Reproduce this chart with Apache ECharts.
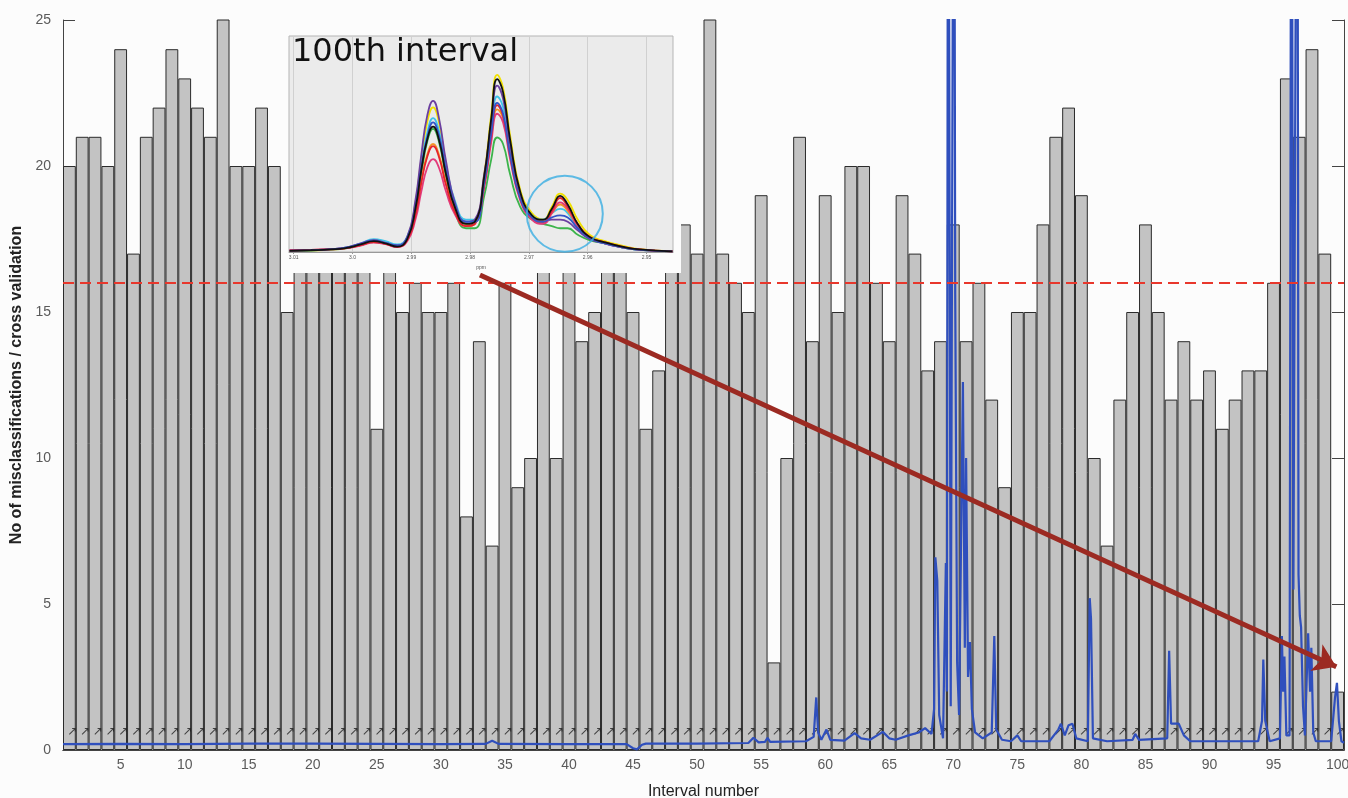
<!DOCTYPE html>
<html><head><meta charset="utf-8">
<script src="https://cdn.jsdelivr.net/npm/echarts@6/dist/echarts.min.js"></script>
<style>html,body{margin:0;padding:0;background:#fcfcfc;overflow:hidden}#c{width:1348px;height:798px}</style>
</head><body><div id="c"></div>
<script>
// ---- main chart data ----
const intervals = Array.from({length: 100}, (_, i) => String(i + 1));
const misclassifications = [
  20,21,21,20,24,17,21,22,24,23,
  22,21,26,20,20,22,20,15,18,17,
  18,17,18,17,11,17,15,16,15,15,
  16,8,14,7,16,9,10,17,10,17,
  14,15,17,17,15,11,13,17,18,17,
  26,17,16,15,19,3,10,21,14,19,
  15,20,20,16,14,19,17,13,14,18,
  14,16,12,9,15,15,18,21,22,19,
  10,7,12,15,18,15,12,14,12,13,
  11,12,13,13,16,23,21,24,17,2
];
const threshold = 16;
const yTicks = [0, 5, 10, 15, 20, 25];
const markLevel = 0.62;           // height of the small arrow marks
// overlaid spectrum: [interval position, intensity]
const spectrum = [
  [0.5,0.2],[5,0.21],[10,0.2],[15,0.22],[20,0.22],[25,0.21],[30,0.2],[33.5,0.21],[34,0.32],[34.5,0.21],
  [40,0.2],[44.5,0.2],[45,0.06],[45.3,0.02],[45.7,0.18],[46,0.22],[50,0.22],[54,0.24],[54.4,0.42],[54.8,0.26],
  [55.3,0.28],[55.5,0.42],[55.7,0.28],[58.5,0.3],[59.1,0.45],[59.3,1.8],[59.45,0.6],[59.7,0.35],[60.1,0.7],[60.4,0.35],
  [61.5,0.32],[62.3,0.58],[62.8,0.4],[63.5,0.35],[64.5,0.62],[65,0.4],[65.5,0.35],[66.5,0.5],[67.3,0.6],[67.8,0.75],
  [68.3,0.55],[68.5,1.4],[68.6,6.6],[68.75,5.8],[68.9,1.2],[69.2,0.4],[69.42,6.4],[69.5,2.0],[69.6,40],[69.8,1.5],
  [70.05,40],[70.15,15.6],[70.3,3.0],[70.45,1.2],[70.75,12.6],[70.9,3.5],[71.0,10.0],[71.15,2.5],[71.3,3.7],[71.45,1.4],
  [71.7,0.6],[72.3,0.4],[73.0,0.6],[73.2,3.9],[73.35,0.7],[73.8,0.35],[74.5,0.3],[75,0.5],[75.3,0.3],[77.5,0.3],
  [78.2,0.7],[78.4,0.9],[78.7,0.5],[79,0.85],[79.3,0.9],[79.6,0.4],[80.5,0.3],[80.65,5.2],[80.75,4.5],[80.9,0.4],
  [82,0.3],[84,0.35],[84.2,0.55],[84.5,0.35],[86.7,0.4],[86.85,3.4],[87.0,0.9],[87.6,0.9],[88,0.5],[88.5,0.3],
  [93.8,0.3],[94.1,1.0],[94.2,3.1],[94.35,1.0],[94.7,0.3],[95.5,0.4],[95.65,3.9],[95.75,2.0],[95.85,3.2],[96.0,0.5],
  [96.25,0.5],[96.4,40],[96.55,5.5],[96.85,40],[96.95,6.0],[97.05,4.6],[97.15,4.2],[97.3,1.5],[97.45,0.5],[97.7,4.0],
  [97.85,2.0],[97.95,3.5],[98.1,0.6],[98.3,0.3],[99.5,0.3],[99.8,1.8],[99.95,2.3],[100.1,1.0],[100.3,0.3],[100.5,0.25]
];
// annotation arrow (interval position, value)
const arrowFrom = [33.05, 16.27];
const arrowTo = [99.9, 2.85];

// ---- inset (100th interval) data ----
const insetTitle = '100th interval';
const insetPpm = [3.0107,3.0071,3.0037,3.0012,2.9986,2.9964,2.9944,2.9924,2.9907,2.9893,2.9883,2.9873,2.9863,2.9853,2.9841,2.9825,2.9807,2.9792,2.9776,2.9764,2.9754,2.9744,2.9732,2.9715,2.9695,2.9676,2.9661,2.9647,2.9634,2.9617,2.9597,2.9571,2.9542,2.9512,2.9456];
const insetTicks = [3.01, 3.0, 2.99, 2.98, 2.97, 2.96, 2.95];
const specYellow  = [0.004,0.007,0.011,0.017,0.034,0.048,0.04,0.026,0.065,0.23,0.43,0.60,0.67,0.60,0.40,0.21,0.13,0.14,0.36,0.64,0.82,0.76,0.54,0.29,0.18,0.15,0.21,0.27,0.24,0.15,0.08,0.05,0.03,0.013,0.004];
const specCyan    = [0.005,0.008,0.012,0.02,0.04,0.06,0.05,0.035,0.07,0.21,0.40,0.55,0.62,0.56,0.40,0.23,0.15,0.15,0.33,0.57,0.72,0.67,0.47,0.26,0.17,0.15,0.18,0.20,0.18,0.11,0.06,0.04,0.022,0.01,0.003];
const specGreen   = [0.005,0.008,0.011,0.017,0.032,0.046,0.038,0.025,0.06,0.19,0.36,0.51,0.57,0.51,0.35,0.18,0.11,0.11,0.26,0.43,0.53,0.50,0.36,0.21,0.15,0.13,0.12,0.11,0.11,0.08,0.055,0.04,0.022,0.01,0.003];
const specPurple  = [0.006,0.009,0.013,0.02,0.04,0.055,0.042,0.03,0.07,0.24,0.45,0.63,0.70,0.62,0.42,0.22,0.14,0.15,0.36,0.60,0.77,0.71,0.50,0.27,0.16,0.14,0.15,0.15,0.14,0.10,0.06,0.04,0.022,0.01,0.003];
const specOrange  = [0.006,0.009,0.012,0.018,0.033,0.047,0.039,0.025,0.057,0.18,0.33,0.45,0.50,0.45,0.32,0.18,0.12,0.13,0.31,0.53,0.66,0.62,0.44,0.25,0.16,0.14,0.18,0.22,0.19,0.12,0.07,0.045,0.024,0.011,0.003];
const specMagenta = [0.008,0.01,0.012,0.017,0.03,0.044,0.036,0.023,0.05,0.15,0.28,0.39,0.43,0.39,0.28,0.17,0.12,0.13,0.30,0.51,0.64,0.60,0.43,0.24,0.15,0.13,0.18,0.23,0.20,0.12,0.07,0.04,0.023,0.011,0.003];
const specRed     = [0.007,0.01,0.013,0.018,0.032,0.046,0.038,0.024,0.055,0.17,0.32,0.44,0.49,0.44,0.31,0.18,0.12,0.13,0.31,0.54,0.68,0.63,0.45,0.25,0.16,0.14,0.19,0.25,0.21,0.13,0.07,0.045,0.025,0.012,0.003];
const specBlue    = [0.006,0.009,0.013,0.02,0.038,0.052,0.042,0.03,0.065,0.21,0.39,0.53,0.60,0.54,0.38,0.21,0.14,0.14,0.32,0.55,0.69,0.64,0.45,0.25,0.16,0.14,0.16,0.17,0.16,0.11,0.065,0.04,0.022,0.01,0.003];
const specBlack   = [0.005,0.008,0.012,0.018,0.035,0.05,0.04,0.025,0.06,0.2,0.38,0.52,0.58,0.52,0.36,0.2,0.13,0.14,0.35,0.62,0.80,0.74,0.52,0.28,0.17,0.15,0.20,0.26,0.22,0.13,0.07,0.045,0.025,0.012,0.003];
const circleCenter = [2.9639, 0.177];

// ---- build ----
const chart = echarts.init(document.getElementById('c'));
const every5 = (i) => (i + 1) % 5 === 0;
const insetSeries = [
  ['#f0e000', specYellow], ['#3fc4e8', specCyan], ['#3cb44b', specGreen],
  ['#6b3fa0', specPurple], ['#f39325', specOrange], ['#e23a7a', specMagenta],
  ['#e5242b', specRed], ['#3555c8', specBlue], ['#111111', specBlack]
].map(([color, ys]) => ({
  type: 'line', xAxisIndex: 3, yAxisIndex: 2, smooth: true, symbol: 'none',
  zlevel: 1, z: 5, silent: true,
  lineStyle: {color, width: 1.8},
  data: insetPpm.map((p, i) => [p, ys[i]])
}));

const option = {
  backgroundColor: '#fcfcfc',
  animation: false,
  textStyle: {fontFamily: 'Liberation Sans'},
  title: {
    text: insetTitle, left: 292, top: 37, padding: 0, zlevel: 1, z: 10,
    textStyle: {fontFamily: 'DejaVu Sans', fontSize: 32, fontWeight: 'normal', color: '#111'}
  },
  graphic: {elements: [{
    type: 'rect', zlevel: 1, z: -100, silent: true,
    shape: {x: 285, y: 33, width: 396, height: 240},
    style: {fill: '#fcfcfc'}
  }]},
  grid: [
    {left: 63, right: 4, top: 20, bottom: 48, containLabel: false, outerBoundsMode: 'none'},
    {left: 289, top: 36, width: 384, height: 216, show: true, containLabel: false, outerBoundsMode: 'none',
     backgroundColor: '#ebebeb', borderColor: '#b5b5b5', borderWidth: 1, zlevel: 1, z: 0}
  ],
  xAxis: [
    {type: 'category', gridIndex: 0, data: intervals, boundaryGap: true,
     axisLine: {lineStyle: {color: '#444', width: 1}},
     axisTick: {inside: true, length: 12, alignWithLabel: true, interval: every5, lineStyle: {color: '#444'}},
     axisLabel: {interval: every5, color: '#5a5a5a', fontSize: 14, margin: 8},
     name: 'Interval number', nameLocation: 'middle', nameGap: 34,
     nameTextStyle: {color: '#222', fontSize: 16}},
    {type: 'category', gridIndex: 0, position: 'top', data: intervals, boundaryGap: true,
     axisLine: {lineStyle: {color: '#444', width: 1}},
     axisTick: {inside: true, length: 12, alignWithLabel: true, interval: every5, lineStyle: {color: '#444'}},
     axisLabel: {show: false}},
    {type: 'value', gridIndex: 0, min: 0.5, max: 100.5, show: false},
    {type: 'value', gridIndex: 1, inverse: true, min: 2.9455, max: 3.0108, zlevel: 1, z: 2,
     axisLine: {show: true, lineStyle: {color: '#999'}},
     axisTick: {show: true, customValues: insetTicks, length: 2, lineStyle: {color: '#999'}},
     axisLabel: {customValues: insetTicks, fontSize: 5, color: '#555', margin: 3,
                 formatter: (v) => (Math.abs(v - 3) < 1e-9 ? '3.0' : v.toFixed(2))},
     splitLine: {show: true, lineStyle: {color: '#d0d0d0', width: 1}},
     name: 'ppm', nameLocation: 'middle', nameGap: 13, nameTextStyle: {fontSize: 5, color: '#555'}}
  ],
  yAxis: [
    {type: 'value', gridIndex: 0, min: yTicks[0], max: yTicks[yTicks.length - 1], interval: 5,
     axisLine: {show: true, lineStyle: {color: '#444'}},
     axisTick: {show: true, inside: true, length: 12, lineStyle: {color: '#444'}},
     axisLabel: {color: '#5a5a5a', fontSize: 14, margin: 12},
     splitLine: {show: false},
     name: 'No of misclassifications / cross validation', nameLocation: 'middle', nameGap: 38,
     nameTextStyle: {color: '#222', fontSize: 16, fontWeight: 'bold'}},
    {type: 'value', gridIndex: 0, position: 'right', min: 0, max: 25, interval: 5,
     axisLine: {show: true, lineStyle: {color: '#444'}},
     axisTick: {show: true, inside: true, length: 12, lineStyle: {color: '#444'}},
     axisLabel: {show: false}, splitLine: {show: false}},
    {type: 'value', gridIndex: 1, min: 0, max: 1, show: false}
  ],
  series: [
    {type: 'bar', xAxisIndex: 0, yAxisIndex: 0, data: misclassifications,
     barWidth: '100%', barCategoryGap: '0%', clip: true, z: 2,
     itemStyle: {color: '#c3c3c3', borderColor: '#2b2b2b', borderWidth: 1},
     markLine: {silent: true, symbol: 'none', label: {show: false}, z: 6,
                lineStyle: {color: '#e8372c', width: 2, type: [11, 6]},
                data: [{yAxis: threshold}]}},
    {type: 'scatter', xAxisIndex: 0, yAxisIndex: 0, symbol: 'circle', symbolSize: 1, z: 3,
     itemStyle: {color: 'rgba(0,0,0,0)'}, silent: true,
     label: {show: true, position: 'inside', formatter: '↗', fontSize: 12, color: '#1e1e1e', offset: [3, 0],
             fontFamily: 'DejaVu Sans'},
     data: intervals.map((c) => [c, markLevel])},
    {type: 'line', xAxisIndex: 2, yAxisIndex: 0, data: spectrum, symbol: 'none', z: 4,
     clip: true, silent: true, lineStyle: {color: '#2f4fbd', width: 2.2}},
    {type: 'lines', coordinateSystem: 'cartesian2d', xAxisIndex: 2, yAxisIndex: 0, z: 7, silent: true,
     symbol: ['none', 'arrow'], symbolSize: 22,
     lineStyle: {color: '#9c2a22', width: 5, opacity: 1},
     data: [{coords: [arrowFrom, arrowTo]}]},
    ...insetSeries,
    {type: 'scatter', xAxisIndex: 3, yAxisIndex: 2, zlevel: 1, z: 8, silent: true,
     symbol: 'circle', symbolSize: 76,
     itemStyle: {color: 'rgba(0,0,0,0)', borderColor: '#3aaee2', borderWidth: 2},
     data: [circleCenter]}
  ]
};
chart.setOption(option);
</script>
</body></html>
